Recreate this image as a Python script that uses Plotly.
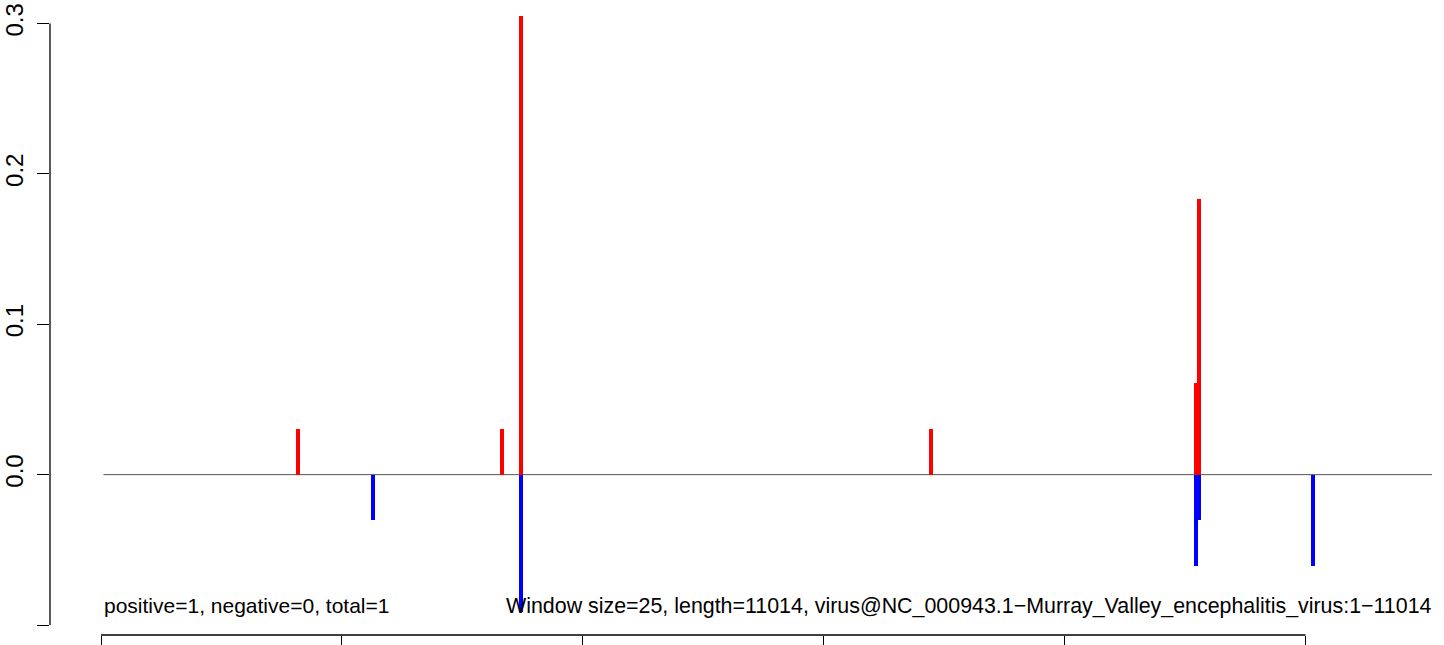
import plotly.graph_objects as go

# positions along the genome (nt) and window scores
pos_x = [1636, 3329, 3487, 6891, 9091, 9116]
pos_y = [0.0305, 0.0305, 0.305, 0.0305, 0.061, 0.183]
neg_x = [2258, 3487, 9091, 9116, 10066]
neg_y = [-0.0305, -0.0915, -0.061, -0.0305, -0.061]

x_ticks = [0, 2000, 4000, 6000, 8000, 10000]
y_ticks = [-0.1, 0.0, 0.1, 0.2, 0.3]
y_ticktext = ["\u22120.1", "0.0", "0.1", "0.2", "0.3"]

left_note = "positive=1, negative=0, total=1"
right_note = ("Window size=25, length=11014, "
              "virus@NC_000943.1\u2212Murray_Valley_encephalitis_virus:1\u221211014")

font = "Liberation Sans, Arial, Helvetica, sans-serif"

fig = go.Figure()

fig.add_trace(go.Bar(x=pos_x, y=pos_y, width=33, marker=dict(color="#ff0000", line_width=0),
                     name="positive"))
fig.add_trace(go.Bar(x=neg_x, y=neg_y, width=33, marker=dict(color="#0000ff", line_width=0),
                     name="negative"))

# zero line
fig.add_shape(type="line", x0=20, x1=11050, y0=0, y1=0, xref="x", yref="y",
              line=dict(color="#555555", width=1), layer="below")
# axis lines only spanning the tick range (like base R)
fig.add_shape(type="line", x0=0, x1=0, y0=-0.1, y1=0.3, xref="paper", yref="y",
              line=dict(color="black", width=1.3))
fig.add_shape(type="line", x0=0, x1=10000, y0=0, y1=0, xref="x", yref="paper",
              line=dict(color="black", width=1.3))

fig.add_annotation(x=8, y=-0.0871, text=left_note, showarrow=False,
                   xanchor="left", yanchor="middle", font=dict(size=21, color="black"))
fig.add_annotation(x=11067, y=-0.0871, text=right_note, showarrow=False,
                   xanchor="right", yanchor="middle", font=dict(size=21.4, color="black"))

fig.update_layout(
    width=1444, height=645,
    margin=dict(l=50, r=8, t=8, b=10),
    plot_bgcolor="white", paper_bgcolor="white",
    showlegend=False, barmode="overlay", bargap=0,
    font=dict(family=font, size=21, color="black"),
    xaxis=dict(range=[-423.4, 11083.4], tickvals=x_ticks, showticklabels=False,
               ticks="outside", ticklen=20, tickwidth=1.3, tickcolor="black",
               showgrid=False, zeroline=False, showline=False, automargin=False),
    yaxis=dict(range=[-0.10665, 0.31031], tickvals=y_ticks, ticktext=y_ticktext,
               tickangle=-90, ticks="outside", ticklen=12, tickwidth=1.3, tickcolor="black",
               tickfont=dict(size=24), ticklabelstandoff=4,
               showgrid=False, zeroline=False, showline=False, automargin=False),
)

# drop the page's default body margin so the figure sits at the window corner
fig.write_html("out.html", config={"displayModeBar": False},
               post_script="document.body.style.margin='0';")
